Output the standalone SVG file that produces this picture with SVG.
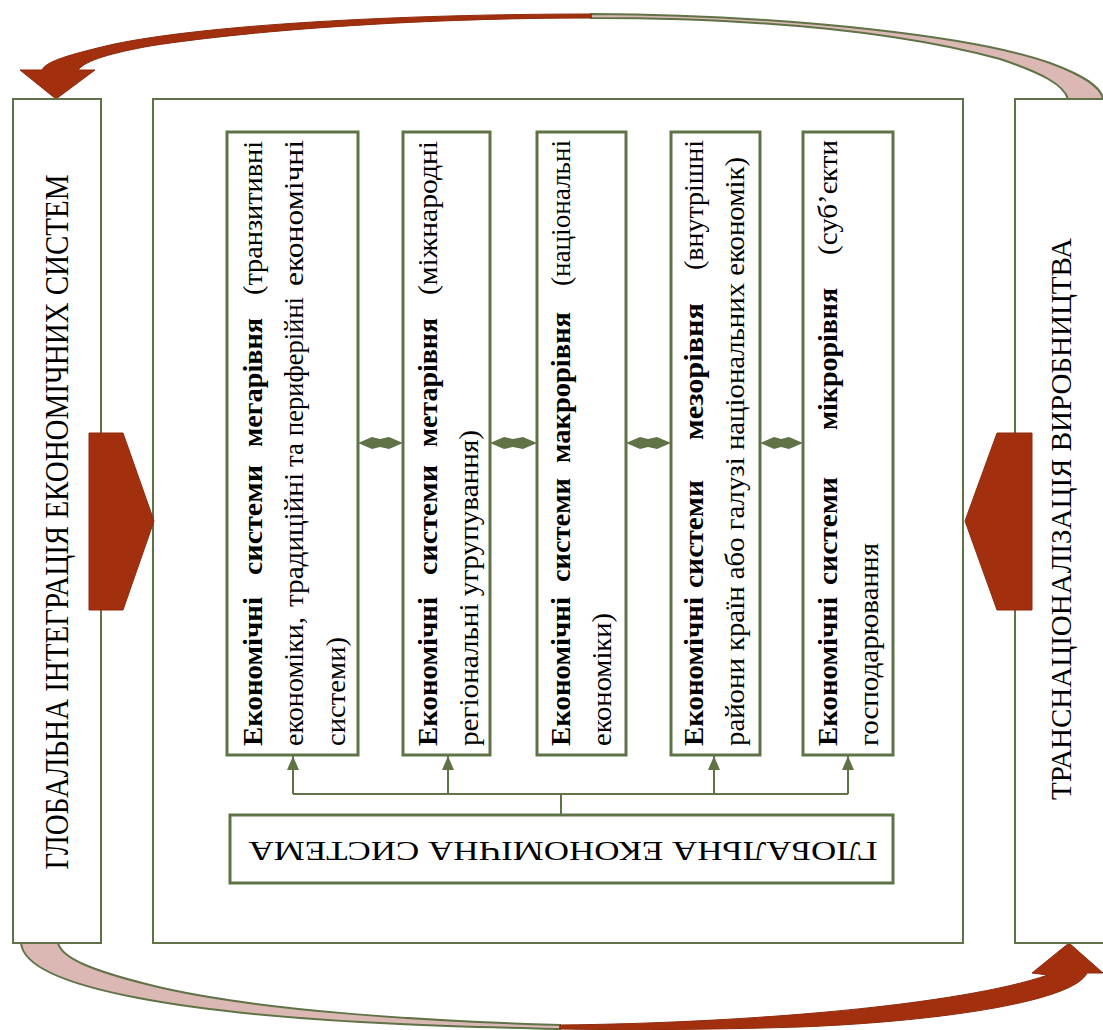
<svg xmlns="http://www.w3.org/2000/svg" width="1103" height="1030" viewBox="0 0 1103 1030">
<style>
.box{fill:#fff;stroke:#5f7347;stroke-width:2}
.ibox{fill:#fff;stroke:#5f7347;stroke-width:3}
.t{font-family:'Liberation Serif','Times New Roman',serif;font-size:28px;fill:#000}
.b{font-weight:bold}
.conn{stroke:#5f7347;stroke-width:2;fill:none}
.dia{fill:#5f7347}
.red{fill:#a2300f;stroke:#8e2a0d;stroke-width:1}
.pink{fill:#dbb8b3;stroke:#5f7347;stroke-width:2}
</style>
<defs>
<marker id="ah" viewBox="0 0 14 12" refX="14" refY="6" markerWidth="14" markerHeight="12" markerUnits="userSpaceOnUse" orient="auto">
<path d="M0,0 L14,6 L0,12 Z" fill="#5f7347"/>
</marker>
</defs>
<rect width="1103" height="1030" fill="#fff"/>

<g id="arc-top">
<path class="pink" d="M591,14 C800,15 980,38 1050,63 C1085,76 1101,87 1103,99 L1068,99 C1064,85 1042,73 1000,59 C900,32 760,18 591,18 Z"/>
<path class="red" d="M591,14 C400,14 200,25 110,45 C72,54 46,61 42,70 L20,70 L56,99 L95,70 L78,70 C86,60 112,53 150,46 C260,29 430,18 591,18 Z"/>
</g>
<g id="arc-bottom">
<path class="pink" d="M21,943 C25,990 200,1015 400,1024 C460,1027 520,1028 560,1029 L560,1025 C420,1021 250,1010 150,985 C90,970 62,958 58,943 Z"/>
<path class="red" d="M560,1025 C750,1023 960,1005 1048,975 L1032,973 L1069,943 L1103,973 L1087,973 C1075,1000 950,1021 800,1027 C700,1030 620,1030 560,1029 Z"/>
</g>

<g id="left-box">
<rect class="box" x="13" y="99" width="88" height="844"/>
<text class="t" style="font-size:33px" transform="translate(68,522) rotate(-90)" text-anchor="middle" textLength="695" lengthAdjust="spacingAndGlyphs">ГЛОБАЛЬНА ІНТЕГРАЦІЯ ЕКОНОМІЧНИХ СИСТЕМ</text>
</g>
<g id="main-box">
<rect class="box" x="153" y="99" width="810" height="844"/>
</g>
<g id="right-box">
<rect class="box" x="1015" y="99" width="100" height="844"/>
<text class="t" style="font-size:30px" transform="translate(1071,519) rotate(-90)" text-anchor="middle" textLength="562" lengthAdjust="spacingAndGlyphs">ТРАНСНАЦІОНАЛІЗАЦІЯ ВИРОБНИЦТВА</text>
</g>
<g id="arrow-left">
<polygon class="red" points="89,433 123,433 154,521 123,610 89,610"/>
</g>
<g id="arrow-right">
<polygon class="red" points="1032,433 997,433 965,521 997,610 1032,610"/>
</g>

<g id="box-mega">
<rect class="ibox" x="227" y="132" width="131" height="623"/>
<g transform="rotate(-90)">
<text class="t b" x="-746" y="262" textLength="149" lengthAdjust="spacingAndGlyphs">Економічні</text>
<text class="t b" x="-575" y="262" textLength="110" lengthAdjust="spacingAndGlyphs">системи</text>
<text class="t b" x="-447" y="262" textLength="129" lengthAdjust="spacingAndGlyphs">мегарівня</text>
<text class="t" x="-295" y="262" textLength="154" lengthAdjust="spacingAndGlyphs">(транзитивні</text>
<text class="t" x="-746" y="303" textLength="129" lengthAdjust="spacingAndGlyphs">економіки,</text>
<text class="t" x="-607" y="303" textLength="134" lengthAdjust="spacingAndGlyphs">традиційні</text>
<text class="t" x="-467" y="303" textLength="24" lengthAdjust="spacingAndGlyphs">та</text>
<text class="t" x="-436" y="303" textLength="139" lengthAdjust="spacingAndGlyphs">периферійні</text>
<text class="t" x="-286" y="303" textLength="146" lengthAdjust="spacingAndGlyphs">економічні</text>
<text class="t" x="-746" y="345" textLength="109" lengthAdjust="spacingAndGlyphs">системи)</text>
</g>
</g>
<g id="box-meta">
<rect class="ibox" x="403" y="132" width="87" height="623"/>
<g transform="rotate(-90)">
<text class="t b" x="-746" y="437" textLength="149" lengthAdjust="spacingAndGlyphs">Економічні</text>
<text class="t b" x="-575" y="437" textLength="110" lengthAdjust="spacingAndGlyphs">системи</text>
<text class="t b" x="-447" y="437" textLength="129" lengthAdjust="spacingAndGlyphs">метарівня</text>
<text class="t" x="-295" y="437" textLength="154" lengthAdjust="spacingAndGlyphs">(міжнародні</text>
<text class="t" x="-746" y="478" textLength="316" lengthAdjust="spacingAndGlyphs">регіональні угрупування)</text>
</g>
</g>
<g id="box-macro">
<rect class="ibox" x="537" y="132" width="89" height="623"/>
<g transform="rotate(-90)">
<text class="t b" x="-746" y="570" textLength="149" lengthAdjust="spacingAndGlyphs">Економічні</text>
<text class="t b" x="-582" y="570" textLength="104" lengthAdjust="spacingAndGlyphs">системи</text>
<text class="t b" x="-463" y="570" textLength="151" lengthAdjust="spacingAndGlyphs">макрорівня</text>
<text class="t" x="-286" y="570" textLength="146" lengthAdjust="spacingAndGlyphs">(національні</text>
<text class="t" x="-746" y="611" textLength="133" lengthAdjust="spacingAndGlyphs">економіки)</text>
</g>
</g>
<g id="box-meso">
<rect class="ibox" x="671" y="132" width="89" height="623"/>
<g transform="rotate(-90)">
<text class="t b" x="-746" y="703" textLength="149" lengthAdjust="spacingAndGlyphs">Економічні</text>
<text class="t b" x="-588" y="703" textLength="108" lengthAdjust="spacingAndGlyphs">системи</text>
<text class="t b" x="-440" y="703" textLength="137" lengthAdjust="spacingAndGlyphs">мезорівня</text>
<text class="t" x="-270" y="703" textLength="130" lengthAdjust="spacingAndGlyphs">(внутрішні</text>
<text class="t" x="-746" y="744" textLength="589" lengthAdjust="spacingAndGlyphs">райони країн або галузі національних економік)</text>
</g>
</g>
<g id="box-micro">
<rect class="ibox" x="803" y="132" width="90" height="623"/>
<g transform="rotate(-90)">
<text class="t b" x="-746" y="837" textLength="149" lengthAdjust="spacingAndGlyphs">Економічні</text>
<text class="t b" x="-585" y="837" textLength="108" lengthAdjust="spacingAndGlyphs">системи</text>
<text class="t b" x="-430" y="837" textLength="142" lengthAdjust="spacingAndGlyphs">мікрорівня</text>
<text class="t" x="-255" y="837" textLength="115" lengthAdjust="spacingAndGlyphs">(суб’єкти</text>
<text class="t" x="-746" y="878" textLength="203" lengthAdjust="spacingAndGlyphs">господарювання</text>
</g>
</g>
<g id="box-global">
<rect class="ibox" x="230" y="815" width="663" height="68"/>
<text class="t" style="font-size:27px" transform="translate(563,842) rotate(180)" text-anchor="middle" textLength="629" lengthAdjust="spacingAndGlyphs">ГЛОБАЛЬНА ЕКОНОМІЧНА СИСТЕМА</text>
</g>

<g id="connectors">
<polygon class="dia" points="358,443 372,437 380,439 389,437 403,443 389,449 380,447 372,449"/>
<polygon class="dia" points="490,443 504,437 513,439 523,437 537,443 523,449 513,447 504,449"/>
<polygon class="dia" points="626,443 640,437 648,439 657,437 671,443 657,449 648,447 640,449"/>
<polygon class="dia" points="760,443 774,437 781,439 789,437 803,443 789,449 781,447 774,449"/>
<path class="conn" d="M561,815 V794 M293,794 H848"/>
<path class="conn" d="M293,794 V756" marker-end="url(#ah)"/>
<path class="conn" d="M448,794 V756" marker-end="url(#ah)"/>
<path class="conn" d="M714,794 V756" marker-end="url(#ah)"/>
<path class="conn" d="M848,794 V756" marker-end="url(#ah)"/>
</g>
</svg>
